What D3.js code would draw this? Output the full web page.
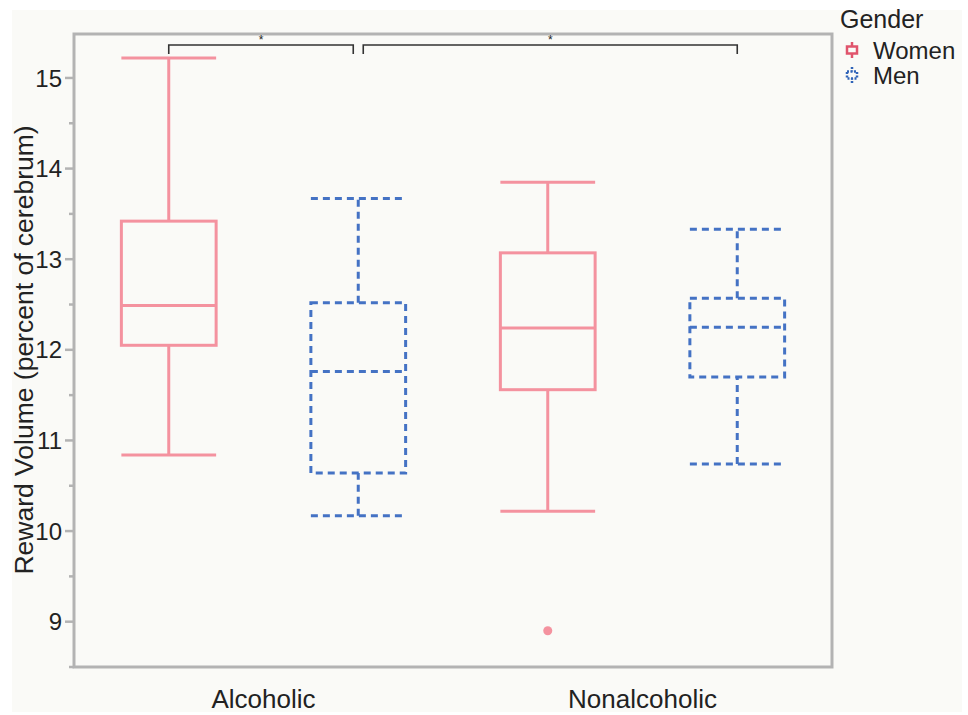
<!DOCTYPE html>
<html>
<head>
<meta charset="utf-8">
<script src="https://cdn.jsdelivr.net/npm/d3@7"></script>
<style>
  body { margin: 0; background: #fff; }
  text { font-family: "Liberation Sans", Arial, sans-serif; fill: #222; }
</style>
</head>
<body>
<div id="chart"></div>
<script>
// groups and genders
const groups = ['Alcoholic', 'Nonalcoholic'];
const genders = ['Women', 'Men'];

// five-number summaries per group/gender: [min, q1, median, q3, max]
const alcWomen = [10.84, 12.05, 12.49, 13.42, 15.22];
const alcMen = [10.17, 10.64, 11.76, 12.52, 13.67];
const nonWomen = [10.22, 11.56, 12.24, 13.07, 13.85];
const nonMen = [10.74, 11.70, 12.25, 12.57, 13.33];
const outliers = [{ group: 'Nonalcoholic', gender: 'Women', value: 8.9 }];

const yTicks = [9, 10, 11, 12, 13, 14, 15];
const yMinorTicks = [8.5, 9.5, 10.5, 11.5, 12.5, 13.5, 14.5];

// significance brackets
const brackets = [
    { from: ['Alcoholic', 'Women'], to: ['Alcoholic', 'Men'], label: '*', dx: [0, -5] },
    { from: ['Alcoholic', 'Men'], to: ['Nonalcoholic', 'Men'], label: '*', dx: [5, 0] }
];

const boxes = [
    { group: 'Alcoholic', gender: 'Women', s: alcWomen },
    { group: 'Alcoholic', gender: 'Men', s: alcMen },
    { group: 'Nonalcoholic', gender: 'Women', s: nonWomen },
    { group: 'Nonalcoholic', gender: 'Men', s: nonMen }
];

const colors = { Women: '#f4929f', Men: '#4472c4' };
const legendIconColors = { Women: '#e0546c', Men: '#2f63b8' };
const dash = { Women: null, Men: '7,5' };

const margin = { left: 74, top: 34, right: 136, bottom: 48 };
const W = 968, H = 715;
const width = W - margin.left - margin.right;
const height = H - margin.top - margin.bottom;

const svg = d3.select('#chart').append('svg')
    .attr('width', W).attr('height', H);

svg.append('rect')
    .attr('x', 12).attr('y', 10)
    .attr('width', 950).attr('height', 702)
    .attr('fill', '#fafaf7');

const chart = svg.append('g')
    .attr('transform', `translate(${margin.left},${margin.top})`);

const x = d3.scaleBand().domain(groups).range([0, width]);
const xSub = d3.scaleBand().domain(genders).range([0, x.bandwidth()]);
const y = d3.scaleLinear().domain([8.5, 15.485]).range([height, 0]);

const cx = (g, s) => x(g) + xSub(s) + xSub.bandwidth() / 2;
const boxW = xSub.bandwidth() * 0.5;

// frame
chart.append('rect')
    .attr('x', 0).attr('y', 0)
    .attr('width', width).attr('height', height)
    .attr('fill', 'none')
    .attr('stroke', '#b3b3b3')
    .attr('stroke-width', 3);

// y axis ticks
const yAxisG = chart.append('g');
yAxisG.selectAll('.major')
    .data(yTicks).join('line')
    .attr('x1', -9).attr('x2', 0)
    .attr('y1', d => y(d)).attr('y2', d => y(d))
    .attr('stroke', '#b3b3b3').attr('stroke-width', 2.5);
yAxisG.selectAll('.minor')
    .data(yMinorTicks).join('line')
    .attr('class', 'minor')
    .attr('x1', -5).attr('x2', 0)
    .attr('y1', d => y(d)).attr('y2', d => y(d))
    .attr('stroke', '#b3b3b3').attr('stroke-width', 2.5);
yAxisG.selectAll('text')
    .data(yTicks).join('text')
    .attr('x', -12)
    .attr('y', d => y(d))
    .attr('dy', '0.36em')
    .attr('text-anchor', 'end')
    .attr('font-size', 24)
    .text(d => d);

svg.append('text')
    .attr('transform', 'translate(33,350) rotate(-90)')
    .attr('text-anchor', 'middle')
    .attr('font-size', 26.5)
    .text('Reward Volume (percent of cerebrum)');

// x labels
chart.selectAll('.xlab')
    .data(groups).join('text')
    .attr('class', 'xlab')
    .attr('x', d => x(d) + x.bandwidth() / 2)
    .attr('y', height + 41)
    .attr('text-anchor', 'middle')
    .attr('font-size', 26)
    .text(d => d);

// box plots
const bg = chart.selectAll('.box')
    .data(boxes).join('g')
    .attr('class', 'box')
    .attr('fill', 'none')
    .attr('stroke', d => colors[d.gender])
    .attr('stroke-width', 3)
    .attr('stroke-dasharray', d => dash[d.gender]);

bg.append('line')
    .attr('x1', d => cx(d.group, d.gender)).attr('x2', d => cx(d.group, d.gender))
    .attr('y1', d => y(d.s[0])).attr('y2', d => y(d.s[1]));
bg.append('line')
    .attr('x1', d => cx(d.group, d.gender)).attr('x2', d => cx(d.group, d.gender))
    .attr('y1', d => y(d.s[3])).attr('y2', d => y(d.s[4]));
bg.append('rect')
    .attr('x', d => cx(d.group, d.gender) - boxW / 2)
    .attr('width', boxW)
    .attr('y', d => y(d.s[3]))
    .attr('height', d => y(d.s[1]) - y(d.s[3]));
[0, 2, 4].forEach(i => {
    bg.append('line')
        .attr('x1', d => cx(d.group, d.gender) - boxW / 2)
        .attr('x2', d => cx(d.group, d.gender) + boxW / 2)
        .attr('y1', d => y(d.s[i])).attr('y2', d => y(d.s[i]));
});

chart.selectAll('.outlier')
    .data(outliers).join('circle')
    .attr('class', 'outlier')
    .attr('cx', d => cx(d.group, d.gender))
    .attr('cy', d => y(d.value))
    .attr('r', 4.5)
    .attr('fill', d => colors[d.gender]);

// significance brackets
const by = 11, bdrop = 9;
brackets.forEach(b => {
    const x1 = cx(...b.from) + b.dx[0];
    const x2 = cx(...b.to) + b.dx[1];
    chart.append('path')
        .attr('d', `M${x1},${by + bdrop}V${by}H${x2}V${by + bdrop}`)
        .attr('fill', 'none')
        .attr('stroke', '#333')
        .attr('stroke-width', 1.6);
    chart.append('text')
        .attr('x', (x1 + x2) / 2)
        .attr('y', by - 1)
        .attr('text-anchor', 'middle')
        .attr('font-size', 12)
        .text(b.label);
});

// legend
const lg = svg.append('g').attr('transform', 'translate(840,0)');
lg.append('text').attr('x', 0).attr('y', 28).attr('font-size', 25).text('Gender');
genders.forEach((g, i) => {
    const row = lg.append('g').attr('transform', `translate(0,${50 + i * 25})`);
    const c = legendIconColors[g];
    const ic = row.append('g')
        .attr('stroke', c).attr('stroke-width', 2.5).attr('fill', 'none')
        .attr('stroke-dasharray', g === 'Men' ? '2,1.5' : null);
    ic.append('line').attr('x1', 12).attr('x2', 12).attr('y1', -8).attr('y2', 8);
    ic.append('rect').attr('x', 7).attr('y', -3.5).attr('width', 10).attr('height', 7)
        .attr('fill', '#fafaf7');
    row.append('text').attr('x', 33).attr('y', 9).attr('font-size', 24).text(g);
});
</script>
</body>
</html>
